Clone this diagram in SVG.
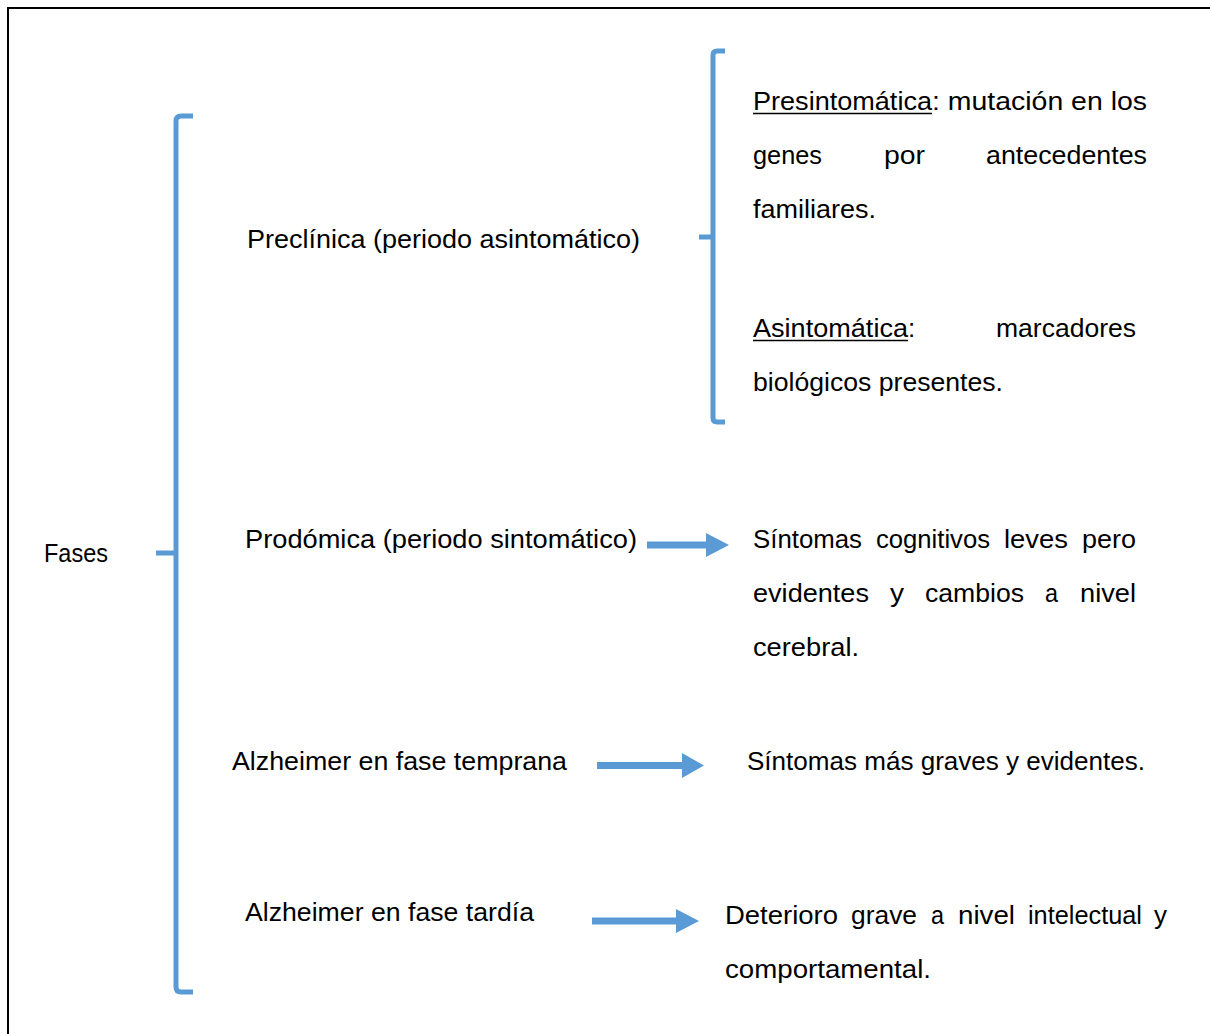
<svg xmlns="http://www.w3.org/2000/svg" width="1210" height="1034" viewBox="0 0 1210 1034">
<style>
text{font-family:"Liberation Sans",Arial,sans-serif;font-size:26px;fill:#000}
.br{fill:none;stroke:#5B9BD5;stroke-width:5;stroke-linecap:butt}
.ar{fill:#5B9BD5}
.ul{stroke:#000;stroke-width:1.5}
</style>
<rect x="0" y="0" width="1210" height="1034" fill="#fff"/>
<rect x="8" y="8" width="1220" height="1040" fill="none" stroke="#000" stroke-width="2"/>
<g id="connectors">
<path class="br" d="M193,116 H181 Q176,116 176,121 V987 Q176,992 181,992 H193 M156,553 H176"/>
<path class="br" d="M725,51 H717 Q713,51 713,55 V418 Q713,422 717,422 H725 M699,237 H713"/>
<polygon class="ar" points="647,541.5 706,541.5 706,533 729,545 706,557 706,548.5 647,548.5"/>
<polygon class="ar" points="597,762 682,762 682,753 704,765.5 682,778 682,769 597,769"/>
<polygon class="ar" points="592,917.5 676,917.5 676,909 699,921 676,933 676,924.5 592,924.5"/>
</g>
<g id="fases"><text x="44" y="562" textLength="64" lengthAdjust="spacingAndGlyphs">Fases</text></g>
<g id="preclinica"><text x="247" y="248" textLength="393" lengthAdjust="spacingAndGlyphs">Preclínica (periodo asintomático)</text></g>
<g id="prodomica"><text x="245" y="548" textLength="392" lengthAdjust="spacingAndGlyphs">Prodómica (periodo sintomático)</text></g>
<g id="temprana"><text x="232" y="770" textLength="335" lengthAdjust="spacingAndGlyphs">Alzheimer en fase temprana</text></g>
<g id="tardia"><text x="245" y="921" textLength="289" lengthAdjust="spacingAndGlyphs">Alzheimer en fase tardía</text></g>
<g id="presintomatica">
<text x="753" y="110" textLength="179" lengthAdjust="spacingAndGlyphs">Presintomática</text>
<line class="ul" x1="753" y1="113.5" x2="932" y2="113.5"/>
<text x="932" y="110" textLength="215" lengthAdjust="spacingAndGlyphs">: mutación en los</text>
<text x="753" y="164" textLength="69" lengthAdjust="spacingAndGlyphs">genes</text>
<text x="884" y="164" textLength="41" lengthAdjust="spacingAndGlyphs">por</text>
<text x="986" y="164" textLength="161" lengthAdjust="spacingAndGlyphs">antecedentes</text>
<text x="753" y="218" textLength="123" lengthAdjust="spacingAndGlyphs">familiares.</text>
</g>
<g id="asintomatica">
<text x="753" y="337" textLength="155" lengthAdjust="spacingAndGlyphs">Asintomática</text>
<line class="ul" x1="753" y1="340.5" x2="908" y2="340.5"/>
<text x="908" y="337">:</text>
<text x="996" y="337" textLength="140" lengthAdjust="spacingAndGlyphs">marcadores</text>
<text x="753" y="391" textLength="250" lengthAdjust="spacingAndGlyphs">biológicos presentes.</text>
</g>
<g id="sintomas-leves">
<text x="753" y="548" textLength="109" lengthAdjust="spacingAndGlyphs">Síntomas</text>
<text x="876" y="548" textLength="114" lengthAdjust="spacingAndGlyphs">cognitivos</text>
<text x="1004" y="548" textLength="64" lengthAdjust="spacingAndGlyphs">leves</text>
<text x="1082" y="548" textLength="54" lengthAdjust="spacingAndGlyphs">pero</text>
<text x="753" y="602" textLength="116" lengthAdjust="spacingAndGlyphs">evidentes</text>
<text x="890" y="602" textLength="14" lengthAdjust="spacingAndGlyphs">y</text>
<text x="925" y="602" textLength="99" lengthAdjust="spacingAndGlyphs">cambios</text>
<text x="1045" y="602" textLength="13" lengthAdjust="spacingAndGlyphs">a</text>
<text x="1080" y="602" textLength="56" lengthAdjust="spacingAndGlyphs">nivel</text>
<text x="753" y="656" textLength="106" lengthAdjust="spacingAndGlyphs">cerebral.</text>
</g>
<g id="sintomas-graves"><text x="747" y="770" textLength="398" lengthAdjust="spacingAndGlyphs">Síntomas más graves y evidentes.</text></g>
<g id="deterioro">
<text x="725" y="924" textLength="113" lengthAdjust="spacingAndGlyphs">Deterioro</text>
<text x="851" y="924" textLength="66" lengthAdjust="spacingAndGlyphs">grave</text>
<text x="931" y="924" textLength="13" lengthAdjust="spacingAndGlyphs">a</text>
<text x="958" y="924" textLength="57" lengthAdjust="spacingAndGlyphs">nivel</text>
<text x="1028" y="924" textLength="114" lengthAdjust="spacingAndGlyphs">intelectual</text>
<text x="1154" y="924" textLength="13" lengthAdjust="spacingAndGlyphs">y</text>
<text x="725" y="978" textLength="206" lengthAdjust="spacingAndGlyphs">comportamental.</text>
</g>
</svg>
